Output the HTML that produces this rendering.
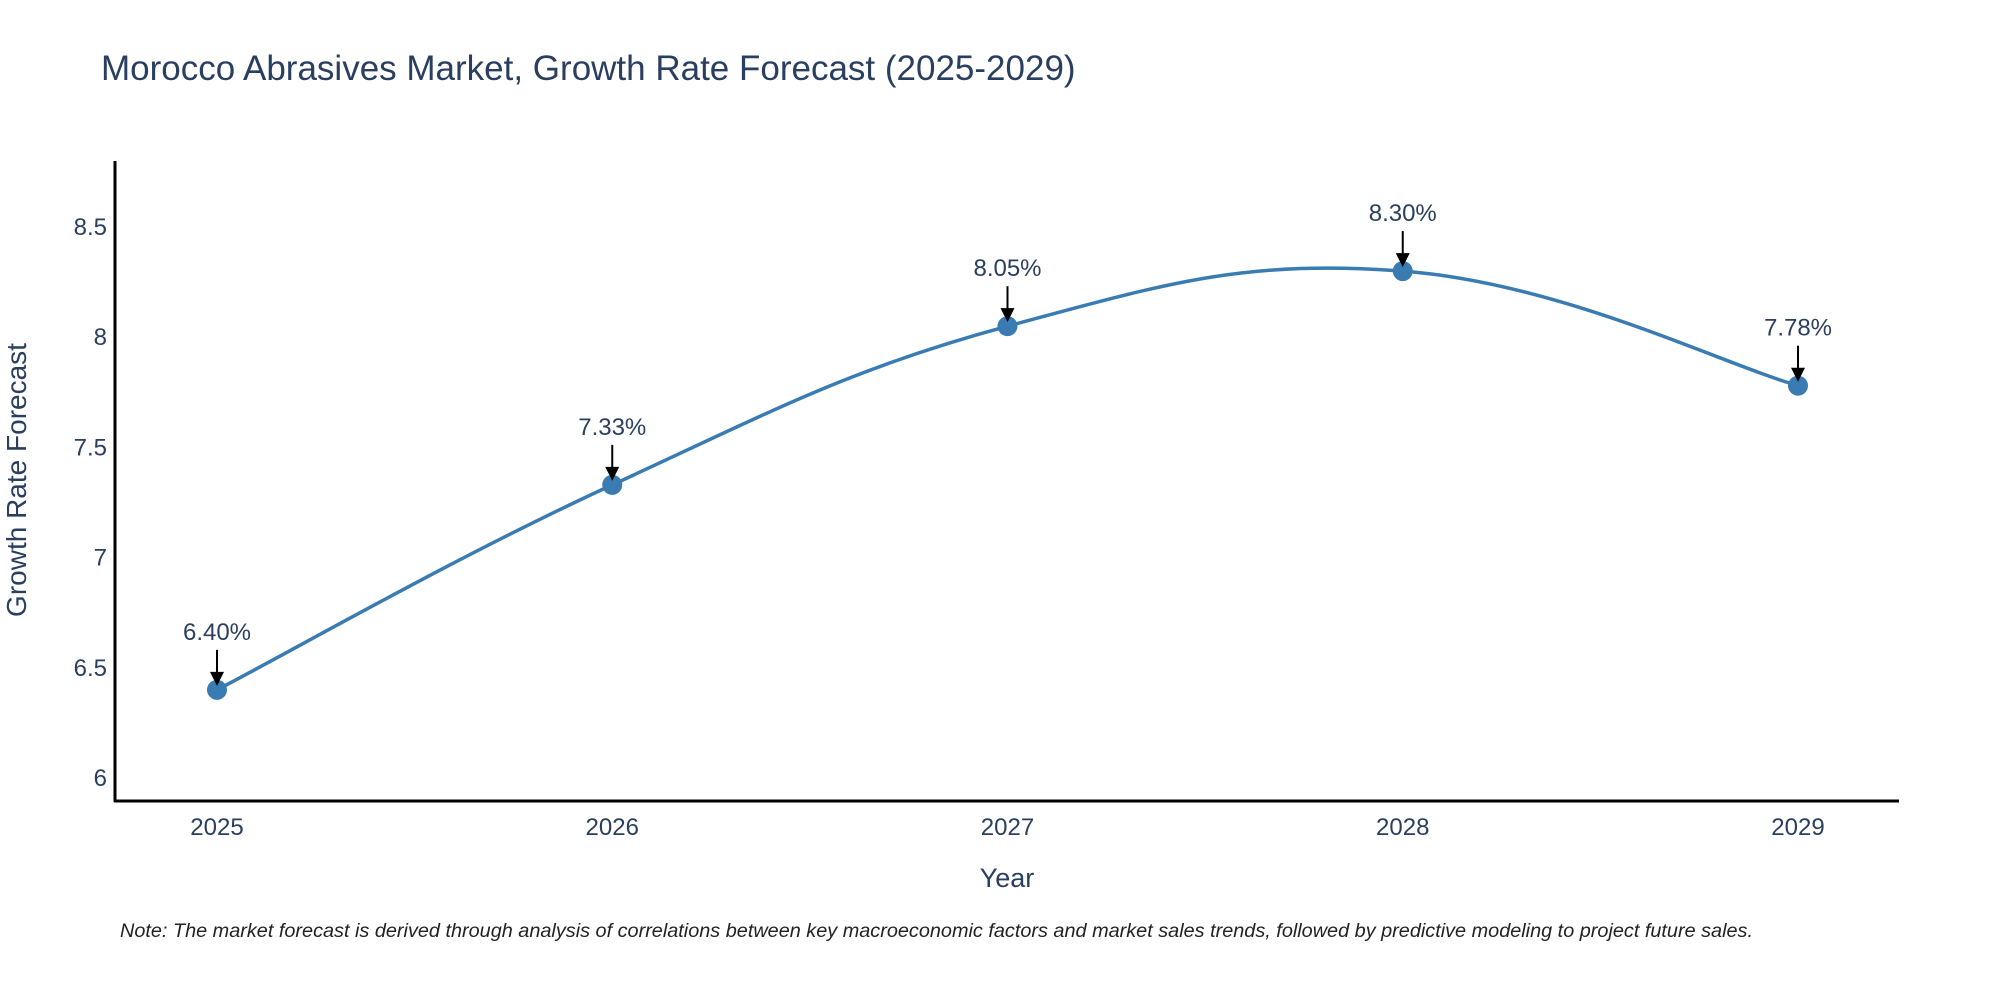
<!DOCTYPE html>
<html><head><meta charset="utf-8"><style>
html,body{margin:0;padding:0;background:#fff;}
svg{display:block;font-family:"Liberation Sans",sans-serif;}
</style></head><body>
<svg id="chart" width="2000" height="1000">
<text x="101" y="80" font-size="35" fill="#2a3f5f">Morocco Abrasives Market, Growth Rate Forecast (2025-2029)</text>
<g id="yticks"></g>
<g id="xticks"></g>
<line x1="115" y1="161" x2="115" y2="802" stroke="#000" stroke-width="3"/>
<line x1="114" y1="801" x2="1899" y2="801" stroke="#000" stroke-width="3"/>
<text x="26" y="480" font-size="28" fill="#2a3f5f" text-anchor="middle" transform="rotate(-90 26 480)">Growth Rate Forecast</text>
<text x="1007" y="887" font-size="27" fill="#2a3f5f" text-anchor="middle">Year</text>
<g id="series"></g>
<text x="120" y="937" font-size="19" font-style="italic" fill="#222" textLength="1633" lengthAdjust="spacingAndGlyphs">Note: The market forecast is derived through analysis of correlations between key macroeconomic factors and market sales trends, followed by predictive modeling to project future sales.</text>
</svg>
<script>
const years = ["2025","2026","2027","2028","2029"];
const values = [6.40, 7.33, 8.05, 8.30, 7.78];
const valueLabels = ["6.40%","7.33%","8.05%","8.30%","7.78%"];
const yTickValues = [6, 6.5, 7, 7.5, 8, 8.5];
const yTickLabels = ["6","6.5","7","7.5","8","8.5"];

const NS="http://www.w3.org/2000/svg";
const xScale = i => 217 + i*395.25;
const yScale = v => 778 - (v-6)*220.4;
function mk(tag, attrs, parent){const e=document.createElementNS(NS,tag);for(const k in attrs)e.setAttribute(k,attrs[k]);parent.appendChild(e);return e;}

const yt=document.getElementById('yticks');
yTickValues.forEach((v,i)=>{
  const t=mk('text',{x:107,y:yScale(v)+8,'font-size':24,fill:'#2a3f5f','text-anchor':'end'},yt);
  
  
  t.textContent=yTickLabels[i];
});
const xt=document.getElementById('xticks');
years.forEach((y,i)=>{
  const t=mk('text',{x:xScale(i),y:835,'font-size':24,fill:'#2a3f5f','text-anchor':'middle'},xt);
  
  
  t.textContent=y;
});

const g=document.getElementById('series');
const pts=values.map((v,i)=>[xScale(i),yScale(v)]);
let d=`M${pts[0][0]},${pts[0][1]}`;
const s=0.2;
for(let i=0;i<pts.length-1;i++){
  const p0=pts[Math.max(0,i-1)],p1=pts[i],p2=pts[i+1],p3=pts[Math.min(pts.length-1,i+2)];
  const c1=[p1[0]+(p2[0]-p0[0])*s,p1[1]+(p2[1]-p0[1])*s];
  const c2=[p2[0]-(p3[0]-p1[0])*s,p2[1]-(p3[1]-p1[1])*s];
  d+=` C${c1[0]},${c1[1]} ${c2[0]},${c2[1]} ${p2[0]},${p2[1]}`;
}
const line=mk('path',{d:d,fill:'none',stroke:'#3a7cb2','stroke-width':3.5},g);



pts.forEach((p,i)=>{
  const c=mk('circle',{cx:p[0],cy:p[1],r:10,fill:'#3a7cb2'},g);
  
  
  const a=mk('line',{x1:p[0],y1:p[1]-40,x2:p[0],y2:p[1]-14,stroke:'#000','stroke-width':2},g);
  
  
  const h=mk('path',{d:`M${p[0]-7},${p[1]-18} L${p[0]+7},${p[1]-18} L${p[0]},${p[1]-4} Z`,fill:'#000'},g);
  
  
  const t=mk('text',{x:p[0],y:p[1]-50,'font-size':24,fill:'#2a3f5f','text-anchor':'middle'},g);
  
  
  t.textContent=valueLabels[i];
});
</script>
</body></html>
